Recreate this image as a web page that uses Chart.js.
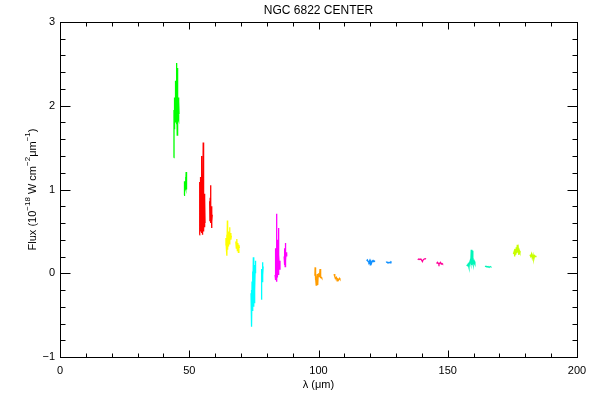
<!DOCTYPE html>
<html>
<head>
<meta charset="utf-8">
<script src="https://cdn.jsdelivr.net/npm/chart.js@4"></script>
<style>
  html, body { margin: 0; padding: 0; background: #fff; }
  #wrap { width: 600px; height: 400px; }
</style>
</head>
<body>
<div id="wrap"><canvas id="chart" width="600" height="400"></canvas></div>
<script>
// ── Spectrum segments: [wavelength (um), flux (1e-18 W cm^-2 um^-1)] ──
const green44 = [[44.05,1.38],[44.1,1.95],[44.15,1.82],[44.25,2.05],[44.3,1.72],[44.4,2.1],[44.5,1.85],[44.6,2.18],[44.7,1.8],[44.8,2.3],[44.9,1.9],[45.0,2.42],[45.1,2.51],[45.15,1.78],[45.25,2.2],[45.35,1.65],[45.4,2.45],[45.5,1.7],[45.6,2.12],[45.7,1.85],[45.8,2.1],[45.9,1.83],[46.0,2.05],[46.05,1.9]];
const green48 = [[48.0,0.93],[48.05,1.1],[48.1,1.0],[48.2,1.08],[48.3,0.98],[48.45,1.05],[48.6,1.15],[48.7,1.02],[48.8,1.21],[48.9,1.0],[49.0,1.06]];
const red55 = [[53.95,0.46],[54.0,1.09],[54.1,0.55],[54.2,1.0],[54.3,0.5],[54.45,1.15],[54.55,0.6],[54.7,1.40],[54.8,0.48],[54.9,1.2],[55.0,0.55],[55.1,1.05],[55.2,0.46],[55.4,1.56],[55.45,0.6],[55.55,1.1],[55.65,0.5],[55.8,0.95],[55.9,0.55],[56.0,0.9],[56.1,0.6]];
const red58 = [[57.9,0.86],[58.0,0.62],[58.1,0.9],[58.2,0.65],[58.3,1.05],[58.4,0.6],[58.5,0.8],[58.6,0.54],[58.7,0.73],[58.8,0.62],[58.9,0.7]];
const yellow65 = [[64.1,0.33],[64.2,0.42],[64.35,0.3],[64.5,0.46],[64.6,0.21],[64.75,0.63],[64.85,0.28],[65.0,0.45],[65.1,0.32],[65.3,0.5],[65.4,0.35],[65.6,0.55],[65.75,0.38],[65.9,0.48],[66.1,0.4],[66.3,0.45]];
const yellow69 = [[68.0,0.38],[68.2,0.3],[68.4,0.41],[68.6,0.27],[68.8,0.36],[69.0,0.25],[69.2,0.34],[69.4,0.3]];
const cyan75 = [[73.9,-0.24],[74.0,-0.5],[74.1,-0.2],[74.2,-0.64],[74.3,-0.1],[74.45,-0.45],[74.55,0.02],[74.65,-0.3],[74.8,0.19],[74.9,-0.4],[75.0,0.04],[75.1,-0.35],[75.25,0.1],[75.35,-0.2],[75.5,0.05],[75.6,0.15],[75.7,0.0]];
const cyan78 = [[77.8,-0.31],[77.9,-0.05],[78.0,-0.2],[78.1,0.05],[78.2,-0.1],[78.35,0.13],[78.45,-0.02],[78.6,0.08]];
const magenta84 = [[83.2,-0.02],[83.3,0.05],[83.4,-0.08],[83.5,0.3],[83.6,-0.05],[83.8,0.71],[83.85,-0.1],[83.95,0.4],[84.0,0.0],[84.1,0.3],[84.2,-0.05],[84.35,0.25],[84.5,0.54],[84.55,-0.02],[84.7,0.22],[84.9,0.05],[85.1,0.15]];
const magenta87 = [[86.7,0.2],[86.8,0.24],[86.9,0.1],[87.0,0.3],[87.1,0.08],[87.2,0.36],[87.3,0.15],[87.45,0.25],[87.6,0.2],[87.75,0.22],[87.9,0.21]];
const orange100 = [[98.6,-0.03],[98.7,0.07],[98.8,-0.08],[98.95,-0.05],[99.1,-0.14],[99.25,-0.04],[99.4,-0.06],[99.55,-0.01],[99.7,-0.14],[99.85,-0.03],[100.0,0.0],[100.2,-0.04],[100.4,-0.02],[100.6,0.05],[100.75,-0.06],[100.9,-0.04],[101.1,-0.05],[101.3,-0.06]];
const orange107 = [[106.0,-0.01],[106.3,-0.04],[106.6,-0.06],[106.9,-0.05],[107.2,-0.09],[107.5,-0.07],[107.8,-0.08],[108.1,-0.06],[108.3,-0.07]];
const blue120 = [[118.6,0.15],[118.9,0.16],[119.2,0.14],[119.5,0.13],[119.8,0.15],[120.0,0.1],[120.2,0.14],[120.5,0.12],[120.8,0.15],[121.1,0.14],[121.4,0.15],[121.9,0.14]];
const blue127 = [[126.1,0.13],[126.5,0.135],[126.9,0.12],[127.3,0.13],[127.7,0.125],[128.0,0.135],[128.3,0.13]];
const pink140 = [[138.4,0.16],[138.8,0.17],[139.2,0.165],[139.6,0.17],[140.0,0.15],[140.2,0.14],[140.5,0.16],[140.9,0.17],[141.3,0.175],[141.6,0.17]];
const pink147 = [[145.7,0.115],[146.0,0.13],[146.3,0.12],[146.6,0.105],[146.9,0.12],[147.2,0.13],[147.5,0.11],[147.8,0.115],[148.0,0.11]];
const teal159 = [[157.3,0.10],[157.6,0.09],[157.9,0.11],[158.2,0.07],[158.4,0.12],[158.7,0.15],[158.9,0.12],[159.1,0.28],[159.3,0.1],[159.5,0.27],[159.7,0.13],[159.9,0.15],[160.1,0.11],[160.3,0.14],[160.5,0.12]];
const teal165 = [[164.4,0.08],[164.8,0.085],[165.2,0.075],[165.6,0.08],[166.0,0.07],[166.4,0.08],[166.7,0.075]];
const lime177 = [[175.4,0.23],[175.7,0.26],[175.9,0.2],[176.1,0.29],[176.3,0.22],[176.5,0.31],[176.7,0.24],[176.9,0.34],[177.1,0.25],[177.3,0.29],[177.5,0.22],[177.7,0.27],[177.9,0.25],[178.2,0.26]];
const lime183 = [[181.8,0.22],[182.1,0.2],[182.4,0.23],[182.7,0.18],[183.0,0.22],[183.3,0.17],[183.6,0.21],[183.9,0.2],[184.1,0.21]];

// ── Axis ticks ────────────────────────────────────────
const X_TICKS = [0, 50, 100, 150, 200];
const Y_TICKS = [-1, 0, 1, 2, 3];

const segments = [
  [green44, '#00ff00'], [green48, '#00ff00'],
  [red55, '#ff0000'], [red58, '#ff0000'],
  [yellow65, '#ffff00'], [yellow69, '#ffff00'],
  [cyan75, '#00ffff'], [cyan78, '#00ffff'],
  [magenta84, '#ff00ff'], [magenta87, '#ff00ff'],
  [orange100, '#ff9c00'], [orange107, '#ff9c00'],
  [blue120, '#1090ff'], [blue127, '#1090ff'],
  [pink140, '#ff0099'], [pink147, '#ff0099'],
  [teal159, '#00f5b8'], [teal165, '#00f5b8'],
  [lime177, '#c8ff00'], [lime183, '#c8ff00']
];

const FONT = 'Liberation Sans, Arial, sans-serif';

// ── Frame, inward ticks and titles ────────────────────
const framePlugin = {
  id: 'frame',
  afterDraw(chart) {
    const { ctx, chartArea: a, scales: { x, y } } = chart;
    const L = Math.round(a.left) + 0.5, R = Math.round(a.right) + 0.5;
    const T = Math.round(a.top) + 0.5, B = Math.round(a.bottom) + 0.5;
    ctx.save();
    ctx.strokeStyle = '#000';
    ctx.lineWidth = 1;
    ctx.strokeRect(L, T, R - L, B - T);
    ctx.beginPath();
    for (let v = 0; v <= 200; v += 10) {
      const px = Math.round(x.getPixelForValue(v)) + 0.5;
      const len = v % 50 === 0 ? 7 : 4;
      ctx.moveTo(px, B); ctx.lineTo(px, B - len);
      ctx.moveTo(px, T); ctx.lineTo(px, T + len);
    }
    for (let i = 0; i <= 20; i++) {
      const v = -1 + i * 0.2;
      const py = Math.round(y.getPixelForValue(v)) + 0.5;
      const len = i % 5 === 0 ? 10 : 5;
      ctx.moveTo(L, py); ctx.lineTo(L + len, py);
      ctx.moveTo(R, py); ctx.lineTo(R - len, py);
    }
    ctx.stroke();

    ctx.fillStyle = '#000';
    ctx.textAlign = 'center';
    ctx.textBaseline = 'middle';
    const cx = (a.left + a.right) / 2;
    ctx.font = '12px ' + FONT;
    ctx.fillText('NGC 6822 CENTER', cx, 11);
    ctx.font = '11px ' + FONT;
    ctx.fillText('λ (μm)', cx, 385);

    // y title with superscripts
    const parts = [
      ['Flux (10', false], ['−18', true], [' W cm', false], ['−2', true],
      ['μm', false], ['−1', true], [')', false]
    ];
    const fontOf = sup => (sup ? '8px ' : '11px ') + FONT;
    let w = 0;
    parts.forEach(([t, sup]) => { ctx.font = fontOf(sup); w += ctx.measureText(t).width; });
    ctx.translate(33, (a.top + a.bottom) / 2);
    ctx.rotate(-Math.PI / 2);
    ctx.textAlign = 'left';
    let pos = -w / 2;
    parts.forEach(([t, sup]) => {
      ctx.font = fontOf(sup);
      ctx.fillText(t, pos, sup ? -5 : 0);
      pos += ctx.measureText(t).width;
    });
    ctx.restore();
  }
};

const fmt = v => (v < 0 ? '−' + Math.abs(v) : String(v));

new Chart(document.getElementById('chart'), {
  type: 'scatter',
  data: {
    datasets: segments.map(([pts, color]) => ({
      data: pts.map(p => ({ x: p[0], y: p[1] })),
      borderColor: color,
      backgroundColor: color,
      borderWidth: 1.3,
      showLine: true,
      pointRadius: 0,
      tension: 0,
      fill: false
    }))
  },
  options: {
    responsive: false,
    animation: false,
    layout: { padding: { top: 22, right: 23, left: 0, bottom: 0 } },
    plugins: { legend: { display: false }, tooltip: { enabled: false }, title: { display: false } },
    scales: {
      x: {
        type: 'linear', min: 0, max: 200,
        afterBuildTicks: s => { s.ticks = X_TICKS.map(v => ({ value: v })); },
        afterFit: s => { s.height = 43; },
        grid: { display: false, drawTicks: false, tickLength: 0 },
        border: { display: false },
        ticks: { color: '#000', font: { family: FONT, size: 11 }, padding: 7, maxRotation: 0, callback: fmt }
      },
      y: {
        type: 'linear', min: -1, max: 3,
        afterBuildTicks: s => { s.ticks = Y_TICKS.map(v => ({ value: v })); },
        afterFit: s => { s.width = 60; },
        grid: { display: false, drawTicks: false, tickLength: 0 },
        border: { display: false },
        ticks: { color: '#000', font: { family: FONT, size: 11 }, padding: 5, callback: fmt }
      }
    }
  },
  plugins: [framePlugin]
});
</script>
</body>
</html>
